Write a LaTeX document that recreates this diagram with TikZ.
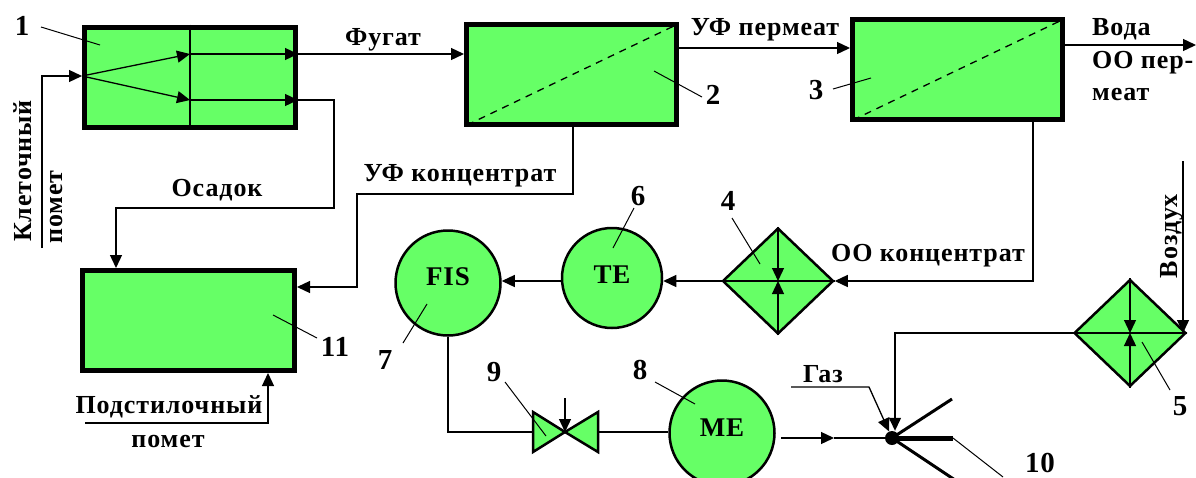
\documentclass[tikz,border=0pt]{standalone}
\usepackage{fontspec}
\setmainfont[LetterSpace=3.5]{Liberation Serif}
\usetikzlibrary{arrows.meta}
\usetikzlibrary{shapes}
\usetikzlibrary{calc}
\definecolor{fillgreen}{HTML}{66FF66}
\tikzset{
  tip/.style={-{Triangle[length=13pt,width=12pt]},shorten >=0pt},
  flow/.style={line width=1.3pt},
  lead/.style={line width=1pt},
  tank/.style={draw,line width=5pt,fill=fillgreen,rectangle,inner sep=0pt},
  vessel/.style={draw,line width=2.5pt,fill=fillgreen,circle,inner sep=0pt},
  cooler/.style={draw,line width=2.5pt,fill=fillgreen,diamond,inner sep=0pt,shape aspect=1.05},
  lab/.style={font=\bfseries\fontsize{26}{28}\selectfont,inner sep=0pt},
  vlab/.style={font=\bfseries\fontsize{27}{27}\selectfont,inner sep=0pt},
  num/.style={font=\bfseries\fontsize{29}{29}\selectfont,inner sep=0pt}
}
\begin{document}
\begin{tikzpicture}[x=1pt,y=-1pt,>=Triangle]
      \clip (0,0) rectangle (1196,477);

      % apparatus
      \node[tank,minimum width=211pt,minimum height=100pt] (sep)   at (190  ,77)  {};
      \node[tank,minimum width=210pt,minimum height=100pt] (uf)    at (571.5,74.5) {};
      \node[tank,minimum width=210pt,minimum height=100pt] (ro)    at (957.5,69.5) {};
      \node[tank,minimum width=212pt,minimum height=100pt] (store) at (188.5,320.5) {};
      \node[vessel,minimum size=100pt] (te)  at (612,278) {};
      \node[vessel,minimum size=105pt] (fis) at (448,283) {};
      \node[vessel,minimum size=105pt] (me)  at (722,433) {};
      \node[vlab] (te_lab)  at (612,275) {TE};
      \node[vlab] (fis_lab) at (448,277) {FIS};
      \node[vlab] (me_lab)  at (722,428) {ME};
      \node[cooler,minimum width=111pt,minimum height=106pt] (coolA) at (778,281) {};
      \node[cooler,minimum width=112pt,minimum height=107pt] (coolB) at (1130,333) {};

      % free ends
      \coordinate (valve)   at (565,432);
      \coordinate (valveL)  at (533,432);
      \coordinate (valveR)  at (598,432);
      \coordinate (valveT)  at (565,398);
      \coordinate (sepdiv)  at (190,77);
      \coordinate (branchA) at (190,54);
      \coordinate (branchB) at (190,100);
      \coordinate (feedA)   at (42,248);
      \coordinate (feedB)   at (85,423);
      \coordinate (gasin)   at (791,387);
      \coordinate (gasbend) at (869,387);
      \coordinate (airin)   at (1183,161);
      \coordinate (meout)   at (781,438);
      \node[circle,fill,inner sep=0pt,minimum size=14pt] (burner) at (892,438) {};
      \coordinate (torchA)  at (952,399);
      \coordinate (torchB)  at (953,438);
      \coordinate (torchC)  at (958,482);

      % inside the apparatus
      \draw[line width=1.2pt] (sepdiv |- sep.north) -- (sepdiv |- sep.south);
      \draw[dashed,line width=1.3pt,dash pattern=on 7pt off 6pt] (uf.south west) ++(3,-2) -- ($(uf.north east)+(-3,3)$);
      \draw[dashed,line width=1.3pt,dash pattern=on 7pt off 6pt] (ro.south west) ++(3,-2) -- ($(ro.north east)+(-3,3)$);
      \foreach \cool in {coolA,coolB} {
        \draw[flow] (\cool.west) -- (\cool.east);
        \draw[flow,tip] (\cool.north) -- (\cool.center);
        \draw[flow,tip] (\cool.south) -- (\cool.center);
      }
      \filldraw[fill=fillgreen,draw=black,line width=2.5pt] (valve) -- (valveL |- 0,412) -- (valveL |- 0,452) -- cycle;
      \filldraw[fill=fillgreen,draw=black,line width=2.5pt] (valve) -- (valveR |- 0,412) -- (valveR |- 0,452) -- cycle;

      % streams
      \draw[flow,tip] (feedA) |- (sep.west |- 0,76);
      \draw[flow,tip] (sep.west |- 0,76) -- (branchA);
      \draw[flow,tip] (sep.west |- 0,76) -- (branchB);
      \draw[flow,tip] (branchA) -- (sep.east |- branchA);
      \draw[flow,tip] (branchB) -- (sep.east |- branchB);
      \draw[flow,tip] (sep.east |- branchA) -- (uf.west |- branchA);
      \draw[flow,tip] (sep.east |- branchB) -| (334,208) -| (store.north -| 116,0);
      \draw[flow,tip] (uf.south -| 573,0) |- (357,194) |- (store.east |- 0,287);
      \draw[flow,tip] (uf.east |- 0,48) -- (ro.west |- 0,48);
      \draw[flow,tip] (ro.east |- 0,45) -- (1196,45);
      \draw[flow,tip] (ro.south -| 1033,0) |- (coolA.east);
      \draw[flow,tip] (coolA.west) -- (te.east |- coolA.west);
      \draw[flow,tip] (te.west |- 0,281) -- (fis.east |- 0,281);
      \draw[flow] (fis.south) |- (valveL);
      \draw[flow] (valveR) -- (me.west |- valveR);
      \draw[flow,tip] (valveT) -- (valve);
      \draw[flow,tip] (feedB) -| (store.south -| 268,0);
      \draw[flow,tip] (meout) -- (834,438);
      \draw[flow] (834,438) -- (burner);
      \draw[flow,tip] (gasin) -- (gasbend) -- (burner);
      \draw[flow,tip] (coolB.west) -| (burner.north -| 895,0);
      \draw[flow,tip] (airin) -- (1183,333);
      \draw[line width=3pt] (burner.center) -- (torchA);
      \draw[line width=5pt] (burner.center) -- (torchB);
      \draw[line width=3pt] (burner.center) -- (torchC);

      % labels
      \node[lab] (fugat)  at (383,40)  {Фугат};
      \node[lab] (ufperm) at (765,30)  {УФ пермеат};
      \node[lab] (ufconc) at (460,176) {УФ концентрат};
      \node[lab] (osadok) at (217,190) {Осадок};
      \node[lab] (roconc) at (928,256) {ОО концентрат};
      \node[lab,anchor=west] (voda)  at (1092,29) {Вода};
      \node[lab,anchor=west] (roperm) at (1092,63) {ОО пер-};
      \node[lab,anchor=west] (meat)  at (1092,95) {меат};
      \node[lab] (litter) at (169,407) {Подстилочный};
      \node[lab] (litterb) at (168,441) {помет};
      \node[lab] (gas)    at (823,374) {Газ};
      \node[lab,rotate=90] (cell)  at (23,171)  {Клеточный};
      \node[lab,rotate=90] (cellb) at (57,207)  {помет};
      \node[lab,rotate=90] (air)   at (1172,236) {Воздух};

      % numbers with their leaders
      \node[num] (n1)  at (22,26)   {1};
      \node[num] (n2)  at (713,95)  {2};
      \node[num] (n3)  at (816,90)  {3};
      \node[num] (n4)  at (728,201) {4};
      \node[num] (n5)  at (1180,406) {5};
      \node[num] (n6)  at (638,196) {6};
      \node[num] (n7)  at (385,360) {7};
      \node[num] (n8)  at (640,370) {8};
      \node[num] (n9)  at (494,372) {9};
      \node[num] (n10) at (1040,463) {10};
      \node[num] (n11) at (335,347) {11};
      \draw[lead] (41,27)  -- (100,45);
      \draw[lead] (654,71) -- (702,97);
      \draw[lead] (833,89) -- (871,78);
      \draw[lead] (732,218) -- (760,264);
      \draw[lead] (1142,342) -- (1170,390);
      \draw[lead] (634,208) -- (613,248);
      \draw[lead] (403,343) -- (427,304);
      \draw[lead] (655,382) -- (695,404);
      \draw[lead] (505,382) -- (546,436);
      \draw[lead] (torchB) -- (1003,477);
      \draw[lead] (273,315) -- (317,338);
  \end{tikzpicture}
\end{document}
